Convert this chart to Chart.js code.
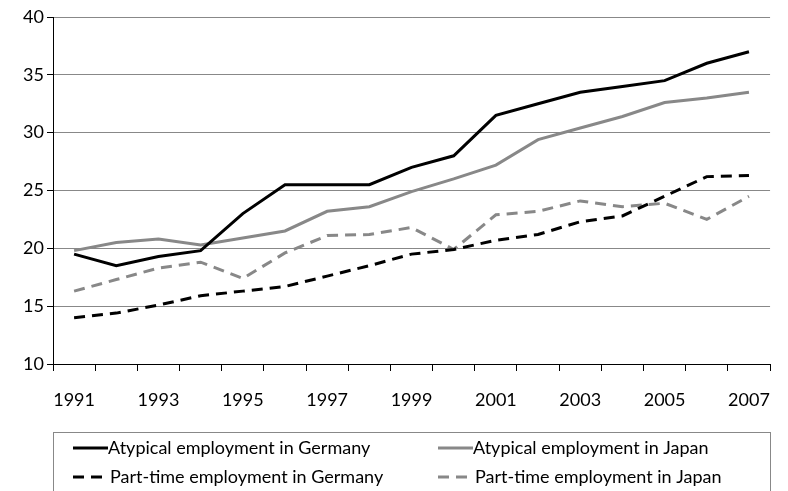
<!DOCTYPE html>
<html>
<head>
<meta charset="utf-8">
<script src="https://cdn.jsdelivr.net/npm/chart.js@4"></script>
<style>
  html, body { margin: 0; padding: 0; background: #fff; }
  #chart { display: block; }
</style>
</head>
<body>
<canvas id="chart" width="788" height="491"></canvas>
<script>
const years = ['1991','1992','1993','1994','1995','1996','1997','1998','1999','2000','2001','2002','2003','2004','2005','2006','2007'];
const atypicalGermany = [19.5, 18.5, 19.3, 19.8, 23.0, 25.5, 25.5, 25.5, 27.0, 28.0, 31.5, 32.5, 33.5, 34.0, 34.5, 36.0, 37.0];
const atypicalJapan = [19.8, 20.5, 20.8, 20.3, 20.9, 21.5, 23.2, 23.6, 24.9, 26.0, 27.2, 29.4, 30.4, 31.4, 32.6, 33.0, 33.5];
const partTimeGermany = [14.0, 14.4, 15.1, 15.9, 16.3, 16.7, 17.6, 18.5, 19.5, 19.9, 20.7, 21.2, 22.3, 22.8, 24.5, 26.2, 26.3];
const partTimeJapan = [16.3, 17.3, 18.3, 18.8, 17.4, 19.6, 21.1, 21.2, 21.8, 19.9, 22.9, 23.2, 24.1, 23.6, 23.9, 22.5, 24.5];
const seriesNames = [
    'Atypical employment in Germany',
    'Atypical employment in Japan',
    'Part-time employment in Germany',
    'Part-time employment in Japan'
];

const FONT = 'Lato, "Open Sans", sans-serif';
const GRAY = '#888888';

// легенда в рамке, две колонки как в Excel
const boxLegend = {
    id: 'boxLegend',
    afterDraw(chart) {
        const ctx = chart.ctx;
        const area = chart.chartArea;
        ctx.save();
        ctx.strokeStyle = GRAY;
        ctx.lineWidth = 1;
        ctx.strokeRect(Math.round(area.left) + 0.5, 432.5, Math.round(area.right - area.left), 80);

        const cols = [area.left + 20, area.left + 385];
        const rows = [448, 477];
        ctx.font = '18px ' + FONT;
        ctx.textBaseline = 'middle';
        ctx.fillStyle = '#000';
        chart.data.datasets.forEach((ds, i) => {
            const x = cols[i % 2];
            const y = rows[Math.floor(i / 2)];
            ctx.strokeStyle = ds.borderColor;
            ctx.lineWidth = 3;
            ctx.setLineDash(ds.borderDash || []);
            ctx.beginPath();
            ctx.moveTo(x, y);
            ctx.lineTo(x + (ds.borderDash ? 29 : 35), y);
            ctx.stroke();
            ctx.setLineDash([]);
            ctx.fillText(ds.label, x + (ds.borderDash ? 37 : 35), y);
        });
        ctx.restore();
    }
};

new Chart(document.getElementById('chart'), {
    type: 'line',
    data: {
        labels: years,
        datasets: [
            { label: seriesNames[0], data: atypicalGermany, borderColor: '#000000' },
            { label: seriesNames[1], data: atypicalJapan, borderColor: GRAY },
            { label: seriesNames[2], data: partTimeGermany, borderColor: '#000000', borderDash: [11, 7] },
            { label: seriesNames[3], data: partTimeJapan, borderColor: GRAY, borderDash: [11, 7] }
        ]
    },
    options: {
        responsive: false,
        animation: false,
        devicePixelRatio: 1,
        layout: { padding: { top: 17, right: 5, left: 0, bottom: 0 } },
        elements: {
            line: { borderWidth: 3, tension: 0, borderCapStyle: 'butt' },
            point: { radius: 0 }
        },
        plugins: { legend: { display: false }, tooltip: { enabled: false } },
        scales: {
            x: {
                offset: true,
                grid: { offset: true, drawOnChartArea: false, color: '#000', tickLength: 7 },
                border: { color: '#000', width: 1 },
                ticks: {
                    autoSkip: false,
                    maxRotation: 0,
                    padding: 18,
                    color: '#000',
                    font: { family: FONT, size: 18 },
                    callback: function(v, i) { return i % 2 === 0 ? this.getLabelForValue(v) : ''; }
                },
                afterFit: s => { s.height = 491 - 364; }
            },
            y: {
                min: 10,
                max: 40,
                ticks: { stepSize: 5, padding: 3, color: '#000', font: { family: FONT, size: 18 } },
                grid: { color: GRAY, lineWidth: 1, tickColor: '#000', tickLength: 6 },
                border: { color: '#000', width: 1 },
                afterFit: s => { s.width = 53; }
            }
        }
    },
    plugins: [boxLegend]
});
</script>
</body>
</html>
